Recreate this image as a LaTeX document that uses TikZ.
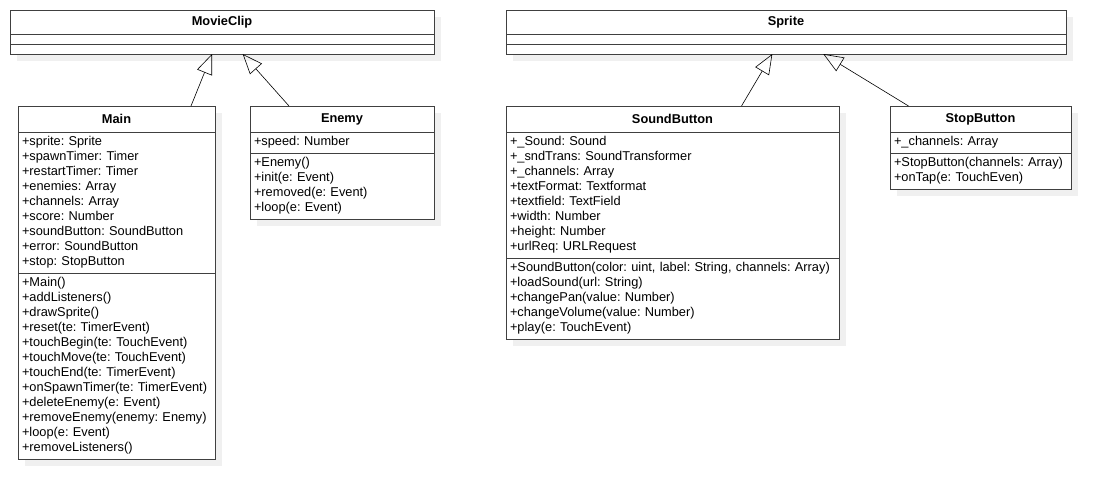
\documentclass[tikz,border=0pt]{standalone}
\usepackage{fontspec}
\setmainfont{Liberation Sans}
\usetikzlibrary{positioning,shadows,arrows.meta}
\frenchspacing

\begin{document}
\begin{tikzpicture}[x=1pt,y=-1pt,
  font=\fontsize{12.8}{15}\selectfont,
  box/.style={draw=black!75,line width=0.8pt,fill=white,outer sep=0pt,
    drop shadow={shadow xshift=7pt,shadow yshift=-7pt,opacity=1,fill=black!6}},
  head/.style={box,font=\fontsize{12.8}{15}\selectfont\bfseries,minimum width=#1,
    minimum height=26pt,inner sep=0pt},
  slot/.style={box,minimum width=#1,minimum height=10pt,inner sep=0pt},
  part/.style={box,align=left,text width=#1,inner xsep=4pt,inner ysep=3pt,
    execute at begin node=\strut,execute at end node=\strut},
  rows/.style={minimum height=#1*15pt+6pt},
  inherit/.style={draw,line width=0.6pt,-{Triangle[open,length=20pt,width=16pt]}}]
\useasboundingbox (0,0) rectangle (1111,501);
% MovieClip
\node[head=424pt,minimum height=24pt,anchor=north west] (movieclip) at (10,10) {MovieClip};
\node[slot=424pt,below=0pt of movieclip] (movieclipA) {};
\node[slot=424pt,below=0pt of movieclipA] (movieclipB) {};
% Sprite
\node[head=560pt,minimum height=24pt,anchor=north west] (sprite) at (506,10) {Sprite};
\node[slot=560pt,below=0pt of sprite] (spriteA) {};
\node[slot=560pt,below=0pt of spriteA] (spriteB) {};
% Main
\node[head=197pt,anchor=north west] (main) at (18,106) {Main};
\node[part=189pt,rows=9,below=0pt of main] (mainAttr) {+sprite: Sprite\\+spawnTimer: Timer\\
  +restartTimer: Timer\\+enemies: Array\\+channels: Array\\+score: Number\\
  +soundButton: SoundButton\\+error: SoundButton\\+stop: StopButton};
\node[part=189pt,rows=12,below=0pt of mainAttr] (mainOp) {+Main()\\+addListeners()\\
  +drawSprite()\\+reset(te: TimerEvent)\\+touchBegin(te: TouchEvent)\\
  +touchMove(te: TouchEvent)\\+touchEnd(te: TimerEvent)\\+onSpawnTimer(te: TimerEvent)\\
  +deleteEnemy(e: Event)\\+removeEnemy(enemy: Enemy)\\+loop(e: Event)\\+removeListeners()};
% Enemy
\node[head=184pt,anchor=north west] (enemy) at (250,106) {Enemy};
\node[part=176pt,rows=1,below=0pt of enemy] (enemyAttr) {+speed: Number};
\node[part=176pt,rows=4,below=0pt of enemyAttr] (enemyOp) {+Enemy()\\+init(e: Event)\\
  +removed(e: Event)\\+loop(e: Event)};
% SoundButton
\node[head=333pt,anchor=north west] (sound) at (506,106) {SoundButton};
\node[part=325pt,rows=8,below=0pt of sound] (soundAttr) {+\_Sound: Sound\\
  +\_sndTrans: SoundTransformer\\+\_channels: Array\\+textFormat: Textformat\\
  +textfield: TextField\\+width: Number\\+height: Number\\+urlReq: URLRequest};
\node[part=325pt,rows=5,below=0pt of soundAttr] (soundOp) {+SoundButton(color: uint, label: String, channels: Array)\\
  +loadSound(url: String)\\+changePan(value: Number)\\+changeVolume(value: Number)\\
  +play(e: TouchEvent)};
% StopButton
\node[head=181pt,anchor=north west] (stop) at (890,106) {StopButton};
\node[part=173pt,rows=1,below=0pt of stop] (stopAttr) {+\_channels: Array};
\node[part=173pt,rows=2,below=0pt of stopAttr] (stopOp) {+StopButton(channels: Array)\\
  +onTap(e: TouchEven)};
% generalisations
\draw[inherit] ([xshift=-24pt]main.north east) -- ([xshift=-10pt]movieclipB.south);
\draw[inherit] ([xshift=-53pt]enemy.north) -- ([xshift=20.7pt]movieclipB.south);
\draw[inherit] ([xshift=69pt]sound.north) -- ([xshift=-13.7pt]spriteB.south);
\draw[inherit] ([xshift=-72pt]stop.north) -- ([xshift=37.3pt]spriteB.south);
\end{tikzpicture}
\end{document}
